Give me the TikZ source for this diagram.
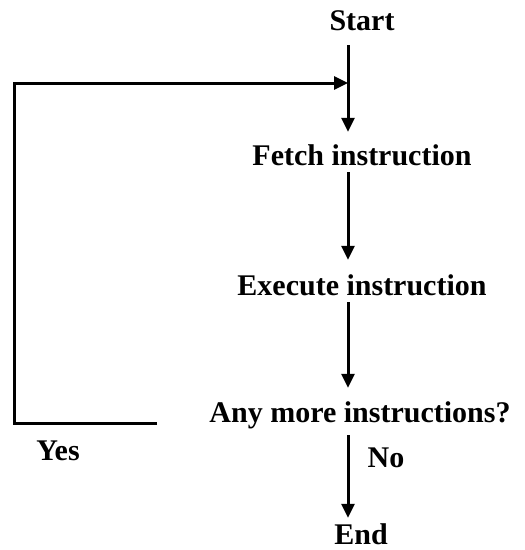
\documentclass[tikz,border=0pt]{standalone}
\usepackage{fontspec}
\setmainfont{Liberation Serif}
\usetikzlibrary{arrows.meta}
\begin{document}
\begin{tikzpicture}[x=1pt,y=-1pt,
  lbl/.style={inner sep=0pt, anchor=base, text height=20pt, text depth=6pt, font=\fontsize{30}{30}\selectfont\bfseries},
  arr/.style={line width=3pt, -{Triangle[width=13pt,length=14pt]}}]
\useasboundingbox (0,0) rectangle (525,550);
\fill[white] (0,0) rectangle (525,550);
\coordinate (col) at (348,0);
\node[lbl] (start) at (362,30) {Start};
\node[lbl] (fetch) at (362,165) {Fetch instruction};
\node[lbl] (exec) at (362,295) {Execute instruction};
\node[lbl] (any) at (360,422) {Any more instructions?};
\node[lbl, text depth=0pt] (end) at (361,544) {End};
\node[lbl] (yes) at (58,460) {Yes};
\node[lbl] (no) at (386,467) {No};
\coordinate (join) at (348,83);
\coordinate (yesend) at (157,423);
\coordinate (corner) at (14,423);
\draw[arr, shorten <=9pt, shorten >=13pt] (start.south -| col) -- (fetch.north -| col);
\draw[arr, shorten <=1pt, shorten >=15pt] (fetch.south -| col) -- (exec.north -| col);
\draw[arr, shorten <=1pt, shorten >=14pt] (exec.south -| col) -- (any.north -| col);
\draw[arr, shorten <=7pt, shorten >=6pt] (any.south -| col) -- (end.north -| col);
\draw[arr, line join=miter] (yesend) -- (corner) |- (join);
\end{tikzpicture}
\end{document}
